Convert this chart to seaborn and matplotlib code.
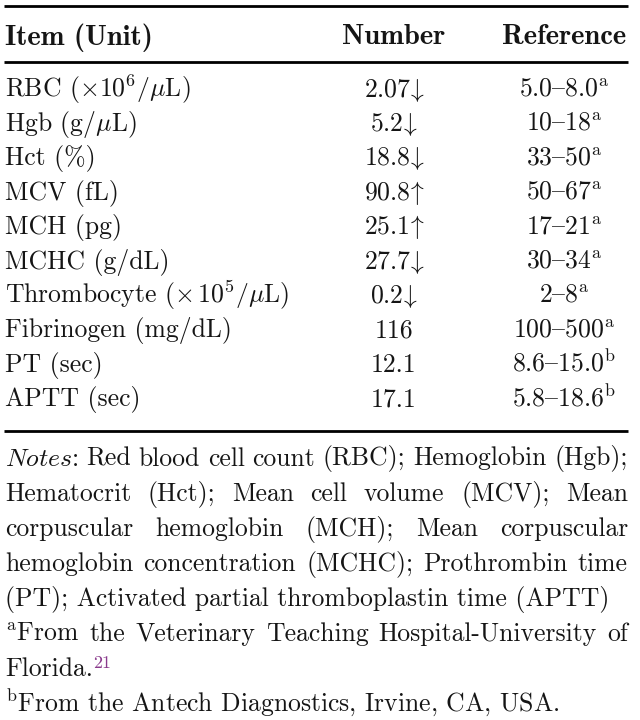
import matplotlib
matplotlib.use('Agg')
import matplotlib.pyplot as plt
import seaborn as sns
import pandas as pd

# table data
items = [r'RBC ($\times10^6/\mu$L)', r'Hgb (g/$\mu$L)', 'Hct (%)', 'MCV (fL)', 'MCH (pg)',
         'MCHC (g/dL)', r'Thrombocyte ($\times\,10^5/\mu$L)', 'Fibrinogen (mg/dL)',
         'PT (sec)', 'APTT (sec)']
numbers = ['2.07', '5.2', '18.8', '90.8', '25.1', '27.7', '0.2', '116', '12.1', '17.1']
flags = ['down', 'down', 'down', 'up', 'up', 'down', 'down', '', '', '']
ref_low = ['5.0', '10', '33', '50', '17', '30', '2', '100', '8.6', '5.8']
ref_high = ['8.0', '18', '50', '67', '21', '34', '8', '500', '15.0', '18.6']
ref_src = ['a', 'a', 'a', 'a', 'a', 'a', 'a', 'a', 'b', 'b']
headers = ['Item (Unit)', 'Number', 'Reference']

notes_justified = [r'$\mathit{Notes}$: Red blood cell count (RBC); Hemoglobin (Hgb);',
                   'Hematocrit (Hct); Mean cell volume (MCV); Mean',
                   'corpuscular hemoglobin (MCH); Mean corpuscular',
                   'hemoglobin concentration (MCHC); Prothrombin time']
notes_last = '(PT); Activated partial thromboplastin time (APTT)'
foot_a = [r'${}^{\mathrm{a}}$From the Veterinary Teaching Hospital-University of', 'Florida.']
foot_a_ref = '21'
foot_b = r'${}^{\mathrm{b}}$From the Antech Diagnostics, Irvine, CA, USA.'

# cmr10 keeps the en dash at the '{' slot (TeX OT1 layout)
dash = '{'
arrow = {'down': r'$\!\downarrow$', 'up': r'$\!\uparrow$', '': ''}
df = pd.DataFrame({'item': items,
                   'number': [n + arrow[f] for n, f in zip(numbers, flags)],
                   'reference': [lo + dash + hi + r'${}^{\mathrm{%s}}$' % s
                                 for lo, hi, s in zip(ref_low, ref_high, ref_src)]})

sns.set_theme(style='white')
plt.rcParams['font.family'] = ['cmr10', 'DejaVu Serif']
plt.rcParams['mathtext.fontset'] = 'cm'
plt.rcParams['axes.unicode_minus'] = False

fig = plt.figure(figsize=(6.4, 7.2), dpi=100)
ax = fig.add_axes([0, 0, 1, 1])
ax.set_xlim(0, 640)
ax.set_ylim(720, 0)
ax.axis('off')

fs = 18.5
hfs = 20.5
col = '#151515'
left, right = 5, 628
x_num, x_ref = 394, 564

# rules
for y in [6, 61.5, 431]:
    ax.plot([4, 628], [y, y], color='black', lw=2, solid_capstyle='butt')

# header
ax.text(left, 44.5, headers[0], fontsize=hfs, family='cmb10', color=col, va='baseline')
ax.text(x_num, 44.5, headers[1], fontsize=hfs, family='cmb10', color=col, va='baseline', ha='center')
ax.text(x_ref, 44.5, headers[2], fontsize=hfs, family='cmb10', color=col, va='baseline', ha='center')

# rows
for i, row in df.iterrows():
    y = 96.5 + i * 34.4
    ax.text(left, y, row['item'], fontsize=fs, color=col, va='baseline')
    ax.text(x_num, y, row['number'], fontsize=fs, color=col, va='baseline', ha='center')
    ax.text(x_ref, y, row['reference'], fontsize=fs, color=col, va='baseline', ha='center')

renderer = fig.canvas.get_renderer()


def justify(line, y):
    words = line.split(' ')
    objs = [ax.text(0, y, w, fontsize=fs, color=col, va='baseline') for w in words]
    widths = [o.get_window_extent(renderer).width for o in objs]
    gap = (right - left - sum(widths)) / (len(words) - 1)
    x = left
    for o, w in zip(objs, widths):
        o.set_x(x)
        x += w + gap


ny = 465.5
step = 35.1
for k, line in enumerate(notes_justified):
    justify(line, ny + k * step)
ax.text(left, ny + 4 * step, notes_last, fontsize=fs, color=col, va='baseline')
justify(foot_a[0], ny + 5 * step)
t = ax.text(left, ny + 6 * step, foot_a[1], fontsize=fs, color=col, va='baseline')
w = t.get_window_extent(renderer).width
ax.text(left + w, ny + 6 * step - 8.5, foot_a_ref, fontsize=fs * 0.7, color='#8a3a8c', va='baseline')
ax.text(left, ny + 7 * step, foot_b, fontsize=fs, color=col, va='baseline')

fig.savefig('out.png', dpi=100)
